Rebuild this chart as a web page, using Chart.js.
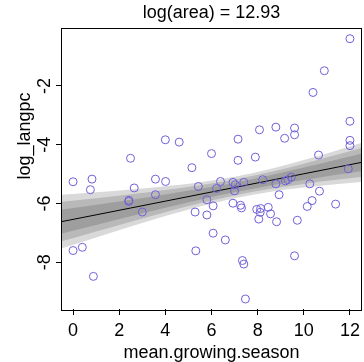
<!DOCTYPE html>
<html>
<head>
<meta charset="utf-8">
<script src="https://cdn.jsdelivr.net/npm/chart.js@4/dist/chart.umd.min.js"></script>
<style>
  html, body { margin: 0; padding: 0; background: #fff; overflow: hidden; }
  #chart { display: block; }
</style>
</head>
<body>
<canvas id="chart" width="366" height="362"></canvas>
<script>
//data
const growSeason = [
  0.00, 0.82, 0.75, 2.49, 2.65, 3.57, 3.57, 2.42, 2.41, 3.00,
  0.40, 0.00, 0.88, 4.00, 4.60, 4.01, 5.15, 5.43, 5.29, 5.32,
  5.80, 5.80, 6.00, 7.15, 7.15, 7.90, 6.07, 6.60, 6.39, 6.22,
  6.93, 7.03, 7.40, 7.00, 6.07, 6.93, 7.26, 7.30, 7.34, 7.40,
  7.47, 7.96, 8.13, 8.11, 8.46, 8.56, 8.05, 8.82, 9.72, 9.60,
  8.22, 8.79, 9.20, 9.31, 9.46, 10.26, 8.93, 10.68, 10.36, 10.15,
  11.38, 11.93, 10.64, 12.00, 12.00, 12.00, 10.40, 10.89, 12.00, 8.08,
  8.79, 9.60, 9.60, 9.17,
];
const logLangpc = [
  -5.26, -5.17, -5.53, -4.46, -5.47, -5.17, -5.70, -5.89, -5.93, -6.29,
  -7.49, -7.60, -8.48, -3.83, -3.91, -5.25, -4.78, -5.42, -6.29, -7.61,
  -5.87, -6.39, -4.30, -3.81, -4.53, -4.42, -7.01, -7.24, -5.25, -5.49,
  -5.28, -5.36, -5.28, -5.57, -6.08, -5.99, -6.06, -6.15, -7.94, -8.06,
  -9.25, -6.20, -6.17, -6.30, -6.13, -6.35, -6.53, -6.62, -6.57, -7.78,
  -5.19, -5.33, -5.23, -5.19, -5.10, -5.33, -5.70, -5.58, -5.90, -6.10,
  -6.02, -4.82, -4.35, -3.85, -4.03, -3.20, -2.22, -1.48, -0.39, -3.49,
  -3.40, -3.43, -3.66, -3.78,
];

//mean line and the three interval bands
const bandX = [-0.48, 1, 2.5, 4, 5.5, 7, 8.5, 10, 11.5, 12.48];
const meanLine = [-6.614, -6.385, -6.152, -5.919, -5.686, -5.454, -5.221, -4.988, -4.755, -4.603];
const outerHi = [-5.704, -5.617, -5.521, -5.411, -5.273, -5.088, -4.834, -4.522, -4.175, -3.939];
const outerLo = [-7.524, -7.153, -6.783, -6.427, -6.099, -5.820, -5.608, -5.454, -5.335, -5.267];
const midHi = [-5.941, -5.817, -5.685, -5.543, -5.380, -5.183, -4.935, -4.643, -4.326, -4.112];
const midLo = [-7.287, -6.953, -6.619, -6.295, -5.992, -5.725, -5.507, -5.333, -5.184, -5.094];
const innerHi = [-6.204, -6.039, -5.868, -5.690, -5.500, -5.289, -5.047, -4.778, -4.494, -4.304];
const innerLo = [-7.024, -6.731, -6.436, -6.148, -5.872, -5.619, -5.395, -5.198, -5.016, -4.902];

const xTicks = [0, 2, 4, 6, 8, 10, 12];
const yTicks = [-8, -6, -4, -2];
const mainTitle = "log(area) = 12.93";
const xTitle = "mean.growing.season";
const yTitle = "log_langpc";

const FONT = "'Liberation Sans', Arial, sans-serif";
const pointColor = "#6f60d8";
const shade = "rgba(0,0,0,0.15)";

const pts = growSeason.map((x, i) => ({ x: x, y: logLangpc[i] }));
const curve = (ys) => bandX.map((x, i) => ({ x: x, y: ys[i] }));

function bandPair(hi, lo) {
  return [
    { data: curve(hi), fill: "+1", backgroundColor: shade, borderWidth: 0, pointRadius: 0, cubicInterpolationMode: "monotone" },
    { data: curve(lo), fill: false, borderWidth: 0, pointRadius: 0, cubicInterpolationMode: "monotone" },
  ];
}

//box, rotated y labels and titles (R style)
const rStyle = {
  id: "rStyle",
  afterDraw(c) {
    const ctx = c.ctx;
    const a = c.chartArea;
    ctx.save();
    ctx.strokeStyle = "#000";
    ctx.lineWidth = 1;
    ctx.strokeRect(Math.round(a.left) - 0.5, Math.round(a.top) - 0.5, a.right - a.left + 1, Math.round(a.bottom - a.top) + 1);

    ctx.fillStyle = "#000";
    ctx.font = "18px " + FONT;
    ctx.textAlign = "center";
    ctx.textBaseline = "alphabetic";
    ctx.fillText(mainTitle, (a.left + a.right) / 2, 18);

    const ys = c.scales.y;
    yTicks.forEach((t) => {
      ctx.save();
      ctx.translate(50, ys.getPixelForValue(t));
      ctx.rotate(-Math.PI / 2);
      ctx.fillText(String(t), 0, 0);
      ctx.restore();
    });

    ctx.save();
    ctx.translate(30, 136);
    ctx.rotate(-Math.PI / 2);
    ctx.fillText(yTitle, 0, 0);
    ctx.restore();

    ctx.fillText(xTitle, (a.left + a.right) / 2, 358);
    ctx.restore();
  },
};

const chart = document.querySelector("#chart").getContext("2d");

new Chart(chart, {
  type: "line",
  data: {
    datasets: [
      {
        data: pts,
        showLine: false,
        pointStyle: "circle",
        pointRadius: 4,
        pointBorderWidth: 1,
        pointBorderColor: pointColor,
        pointBackgroundColor: "rgba(0,0,0,0)",
        borderColor: pointColor,
      },
      { data: curve(meanLine), borderColor: "#000", borderWidth: 1, pointRadius: 0, fill: false },
      ...bandPair(innerHi, innerLo),
      ...bandPair(midHi, midLo),
      ...bandPair(outerHi, outerLo),
    ],
  },
  options: {
    responsive: false,
    animation: false,
    layout: { padding: { top: 28.5, right: 1.5, left: 0, bottom: 0 } },
    plugins: { legend: { display: false }, tooltip: { enabled: false } },
    scales: {
      x: {
        type: "linear",
        min: -0.48,
        max: 12.48,
        afterBuildTicks: (s) => { s.ticks = xTicks.map((v) => ({ value: v })); },
        afterFit: (s) => { s.height = 53; },
        border: { display: false },
        grid: { drawOnChartArea: false, tickLength: 6, color: "#000" },
        ticks: { color: "#000", font: { family: FONT, size: 18 }, padding: 5, maxRotation: 0, autoSkip: false },
      },
      y: {
        type: "linear",
        min: -9.59,
        max: -0.043,
        afterBuildTicks: (s) => { s.ticks = yTicks.map((v) => ({ value: v })); },
        afterFit: (s) => { s.width = 62; },
        border: { display: false },
        grid: { drawOnChartArea: false, tickLength: 6, color: "#000" },
        ticks: { display: false },
      },
    },
  },
  plugins: [rStyle],
});
</script>
</body>
</html>
